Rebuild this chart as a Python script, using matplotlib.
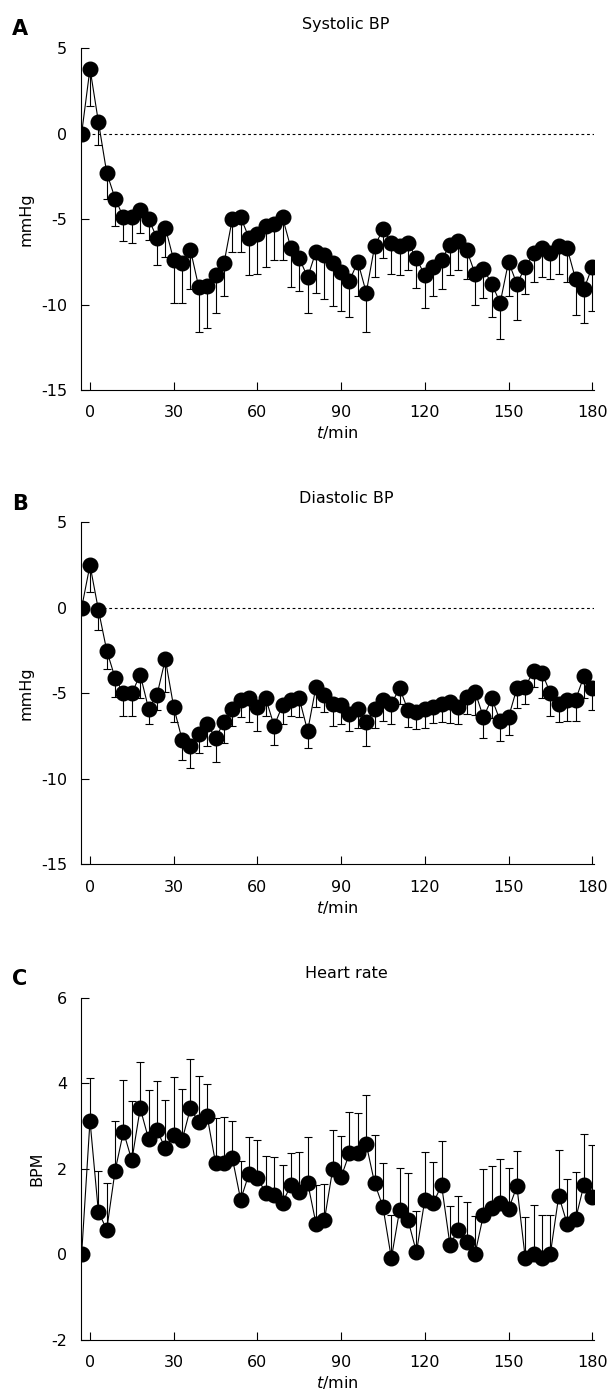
import matplotlib
matplotlib.use('Agg')
import matplotlib.pyplot as plt

plt.rcParams['font.family'] = ['DejaVu Sans']
plt.rcParams['axes.unicode_minus'] = False

# sampling times (min), -3 = baseline
t = [-3, 0, 3, 6, 9, 12, 15, 18, 21, 24, 27, 30, 33, 36, 39, 42, 45, 48, 51, 54,
     57, 60, 63, 66, 69, 72, 75, 78, 81, 84, 87, 90, 93, 96, 99, 102, 105, 108,
     111, 114, 117, 120, 123, 126, 129, 132, 135, 138, 141, 144, 147, 150, 153,
     156, 159, 162, 165, 168, 171, 174, 177, 180]

# systolic BP change (mmHg) and SEM (lower bars)
sbp = [0, 3.8, 0.7, -2.3, -3.8, -4.9, -4.9, -4.5, -5.0, -6.1, -5.5, -7.4, -7.6, -6.8,
       -9.0, -8.9, -8.3, -7.6, -5.0, -4.9, -6.1, -5.9, -5.4, -5.3, -4.9, -6.7, -7.3,
       -8.4, -6.9, -7.1, -7.6, -8.1, -8.6, -7.5, -9.3, -6.6, -5.6, -6.4, -6.6, -6.4,
       -7.3, -8.3, -7.8, -7.4, -6.5, -6.3, -6.8, -8.2, -7.9, -8.8, -9.9, -7.5, -8.8,
       -7.8, -7.0, -6.7, -7.0, -6.6, -6.7, -8.5, -9.1, -7.8]
sbp_se = [0, 2.2, 1.4, 1.5, 1.6, 1.4, 1.5, 1.3, 1.2, 1.6, 1.7, 2.5, 2.3, 2.3, 2.6, 2.5,
          2.2, 1.9, 1.9, 2.0, 2.2, 2.3, 2.4, 2.1, 2.5, 2.3, 1.9, 2.1, 2.4, 2.6, 2.5, 2.3,
          2.1, 2.0, 2.3, 1.8, 1.7, 1.8, 1.65, 1.6, 1.75, 1.9, 1.7, 1.7, 1.8, 1.7, 1.7,
          1.85, 1.7, 1.9, 2.1, 2.0, 2.1, 1.6, 1.7, 1.7, 1.5, 1.6, 2.0, 2.1, 2.0, 2.6]

# diastolic BP change (mmHg) and SEM (lower bars)
dbp = [0, 2.5, -0.1, -2.5, -4.1, -5.0, -5.0, -3.9, -5.9, -5.1, -3.0, -5.8, -7.7, -8.1,
       -7.4, -6.8, -7.6, -6.7, -5.9, -5.4, -5.3, -5.8, -5.3, -6.9, -5.7, -5.4, -5.3,
       -7.2, -4.6, -5.1, -5.6, -5.7, -6.2, -5.9, -6.7, -5.9, -5.4, -5.6, -4.7, -6.0,
       -6.1, -5.9, -5.8, -5.6, -5.5, -5.8, -5.2, -4.9, -6.4, -5.3, -6.6, -6.4, -4.7,
       -4.6, -3.7, -3.8, -5.0, -5.6, -5.4, -5.4, -4.0, -4.7]
dbp_se = [0, 1.6, 1.2, 1.1, 1.1, 1.3, 1.3, 1.4, 0.9, 0.9, 1.9, 0.9, 1.2, 1.25, 1.1, 1.3,
          1.4, 1.2, 1.0, 1.0, 1.35, 1.4, 1.05, 1.1, 1.1, 0.9, 1.1, 1.0, 1.2, 1.0, 1.3,
          1.1, 1.0, 1.15, 1.35, 1.1, 1.2, 1.2, 0.9, 0.95, 1.0, 1.1, 0.95, 1.1, 1.25,
          1.0, 1.0, 1.35, 1.2, 1.15, 1.2, 1.05, 1.15, 1.05, 0.9, 1.5, 1.3, 1.1, 1.2,
          1.2, 1.3, 1.3]

# heart rate change (BPM) and SEM (upper bars)
hr = [0, 3.13, 1.0, 0.58, 1.96, 2.87, 2.2, 3.42, 2.7, 2.91, 2.48, 2.8, 2.67, 3.42,
      3.09, 3.23, 2.14, 2.14, 2.26, 1.28, 1.89, 1.79, 1.44, 1.4, 1.21, 1.62, 1.45,
      1.68, 0.72, 0.8, 2.0, 1.81, 2.37, 2.37, 2.58, 1.67, 1.11, -0.09, 1.05, 0.8,
      0.05, 1.28, 1.2, 1.62, 0.23, 0.58, 0.3, 0.02, 0.92, 1.09, 1.2, 1.06, 1.59,
      -0.09, 0.0, -0.09, 0.02, 1.37, 0.72, 0.82, 1.62, 1.34]
hr_se = [0, 1.0, 0.95, 1.1, 1.17, 1.2, 1.38, 1.07, 1.14, 1.14, 1.14, 1.35, 1.2, 1.14,
         1.09, 0.75, 1.04, 1.08, 0.85, 0.9, 0.85, 0.89, 0.86, 0.88, 0.88, 0.76, 0.94,
         1.06, 0.9, 0.85, 0.91, 0.95, 0.97, 0.93, 1.16, 1.13, 1.04, 1.02, 0.97, 1.1,
         0.96, 1.11, 0.97, 1.04, 0.9, 0.78, 0.92, 0.87, 1.08, 0.97, 1.03, 0.97, 0.82,
         0.96, 1.15, 1.02, 0.91, 1.08, 1.04, 1.11, 1.19, 1.21]

panels = [
    ('A', 'Systolic BP', 'mmHg', sbp, sbp_se, 'lower', (-15, 5), [-15, -10, -5, 0, 5], 0.7214),
    ('B', 'Diastolic BP', 'mmHg', dbp, dbp_se, 'lower', (-15, 5), [-15, -10, -5, 0, 5], 0.3826),
    ('C', 'Heart rate', 'BPM', hr, hr_se, 'upper', (-2, 6), [-2, 0, 2, 4, 6], 0.0429),
]

fig = plt.figure(figsize=(6.12, 14), dpi=100)

for letter, title, ylab, y, se, side, ylim, yticks, bottom in panels:
    ax = fig.add_axes([0.132, bottom, 0.838, 0.2443])
    zeros = [0] * len(se)
    yerr = [se, zeros] if side == 'lower' else [zeros, se]
    if side == 'lower':
        ax.axhline(0, color='black', lw=0.8, ls=(0, (2.5, 2.5)), zorder=1)
    ax.errorbar(t, y, yerr=yerr, fmt='-o', color='black', ms=10.5, lw=0.8,
                elinewidth=0.8, capsize=3, capthick=0.8, zorder=3)
    ax.set_xlim(-3.3, 180.5)
    ax.set_ylim(*ylim)
    ax.set_xticks([0, 30, 60, 90, 120, 150, 180])
    ax.set_yticks(yticks)
    ax.spines['top'].set_visible(False)
    ax.spines['right'].set_visible(False)
    for s in ['left', 'bottom']:
        ax.spines[s].set_linewidth(0.8)
    ax.tick_params(direction='in', length=6, width=0.8, labelsize=11.5)
    ax.tick_params(axis='y', pad=10)
    ax.tick_params(axis='x', pad=11)
    ax.set_ylabel(ylab, fontsize=11.5, labelpad=5)
    ax.set_xlabel('$t$/min', fontsize=11.5, labelpad=3)
    ax.set_title(title, fontsize=11.5, x=0.517, pad=14)
    ax.text(-0.134, 1.055, letter, transform=ax.transAxes, fontsize=15,
            fontweight='bold', ha='left', va='center')

fig.savefig('out.png', dpi=100)
